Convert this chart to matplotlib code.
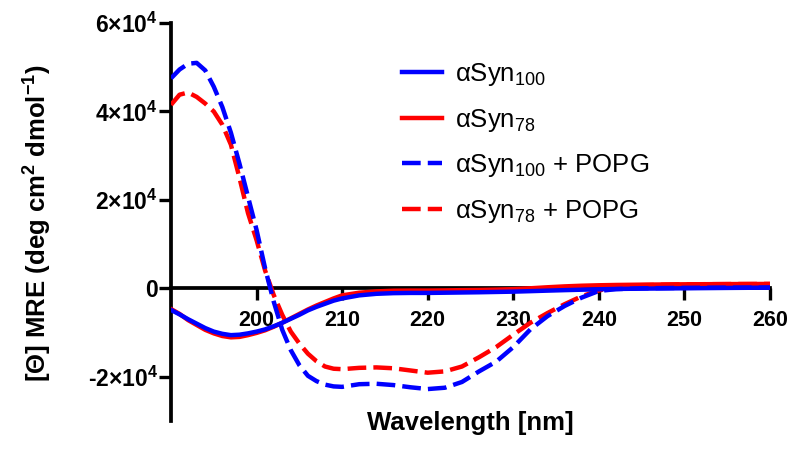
import matplotlib
matplotlib.use('Agg')
import matplotlib.pyplot as plt
from matplotlib.ticker import FixedLocator, FuncFormatter

plt.rcParams['font.family'] = ['Liberation Sans', 'DejaVu Sans']
plt.rcParams['mathtext.fontset'] = 'custom'
plt.rcParams['mathtext.rm'] = 'Liberation Sans'
plt.rcParams['mathtext.bf'] = 'Liberation Sans:bold'
plt.rcParams['mathtext.it'] = 'Liberation Sans:italic'

# CD spectra (MRE, deg cm2 dmol-1)
wavelength = [190, 191, 192, 193, 194, 195, 196, 197, 198, 199, 200, 201, 202, 203,
              204, 205, 206, 207, 208, 209, 210, 212, 214, 216, 218, 220, 222, 224,
              226, 228, 230, 232, 234, 236, 238, 240, 242, 245, 250, 255, 260]

syn100 = [-4900, -5900, -7000, -8000, -9000, -9800, -10300, -10600, -10500, -10200,
          -9800, -9300, -8600, -7800, -6900, -6000, -5000, -4200, -3500, -2800, -2300,
          -1600, -1250, -1100, -1050, -1050, -1000, -950, -900, -830, -760, -650, -530,
          -420, -320, -230, -150, -80, 0, 80, 150]

syn78 = [-4700, -5800, -7200, -8300, -9400, -10200, -10800, -11100, -11000, -10600,
         -10100, -9500, -8700, -7800, -6800, -5800, -4800, -3900, -3100, -2300, -1600,
         -1000, -700, -550, -520, -520, -480, -420, -380, -300, -200, 0, 230, 430, 580,
         680, 750, 820, 900, 950, 980]

syn100_popg = [47500, 49500, 50800, 51000, 49300, 45600, 41000, 35200, 28200, 20700,
               13200, 4500, -3000, -9400, -14000, -17400, -19800, -21000, -21800, -22200,
               -22300, -21700, -21600, -21900, -22400, -22800, -22500, -21200, -18800,
               -16600, -13300, -9300, -6300, -4000, -2100, -600, -200, 0, 100, 150, 150]

syn78_popg = [41500, 43800, 44300, 43300, 41800, 40000, 37000, 32500, 25000, 17000,
              10900, 4000, -1500, -6000, -9800, -12500, -14800, -16500, -17700, -18200,
              -18300, -18000, -17900, -18100, -18600, -19100, -18800, -17700, -15600,
              -13300, -10500, -7800, -5600, -3600, -1800, -500, 300, 700, 900, 950, 980]

x_ticks = [200, 210, 220, 230, 240, 250, 260]
y_ticks = [-20000, 0, 20000, 40000, 60000]

blue = '#0000ff'
red = '#ff0000'

fig = plt.figure(figsize=(8, 4.5), dpi=100)
ax = fig.add_axes([0.21375, 0.0647, 0.74875, 0.884])

dash = (4.2, 1.6)
ax.plot(wavelength, syn78, color=red, lw=3.2, label=r'αSyn$_{78}$', zorder=3)
ax.plot(wavelength, syn100, color=blue, lw=3.2, label=r'αSyn$_{100}$', zorder=4)
ax.plot(wavelength, syn78_popg, color=red, lw=3.2, dashes=dash,
        label=r'αSyn$_{78}$ + POPG', zorder=3)
ax.plot(wavelength, syn100_popg, color=blue, lw=3.2, dashes=dash,
        label=r'αSyn$_{100}$ + POPG', zorder=4)

ax.set_xlim(190, 260)
ax.set_ylim(-30000, 60000)

ax.spines['top'].set_visible(False)
ax.spines['right'].set_visible(False)
ax.spines['bottom'].set_position(('data', 0))
ax.spines['left'].set_linewidth(2.7)
ax.spines['bottom'].set_linewidth(2.7)
ax.spines['bottom'].set_zorder(2)

ax.xaxis.set_major_locator(FixedLocator(x_ticks))
ax.yaxis.set_major_locator(FixedLocator(y_ticks))


def sci(v, pos):
    if v == 0:
        return '0'
    m = int(round(v / 10000))
    return '%d×10$^{\\mathbf{4}}$' % m


ax.yaxis.set_major_formatter(FuncFormatter(sci))
ax.tick_params(axis='both', direction='out', width=2.4, length=8.5)
ax.tick_params(axis='x', pad=7, labelsize=15.5)
ax.tick_params(axis='y', pad=1, labelsize=16.5)
for lab in ax.get_xticklabels() + ax.get_yticklabels():
    lab.set_fontweight('bold')

fig.text(0.5875, 1 - 423 / 450, 'Wavelength [nm]', ha='center', va='center',
         fontsize=18.5, fontweight='bold')
fig.text(38 / 800, 1 - 223 / 450,
         r'[Θ] MRE (deg cm$^{\mathbf{2}}$ dmol$^{\mathbf{-1}}$)',
         ha='center', va='center', rotation=90, fontsize=18.5, fontweight='bold')

h, l = ax.get_legend_handles_labels()
order = [1, 0, 3, 2]
ax.legend([h[i] for i in order], [l[i] for i in order], loc='upper left',
          bbox_to_anchor=(392 / 800, 1 - 51 / 450), bbox_transform=fig.transFigure,
          frameon=False, fontsize=18.5, handlelength=1.55, handletextpad=0.5,
          labelspacing=0.72, borderaxespad=0)

fig.savefig('out.png', dpi=100)
